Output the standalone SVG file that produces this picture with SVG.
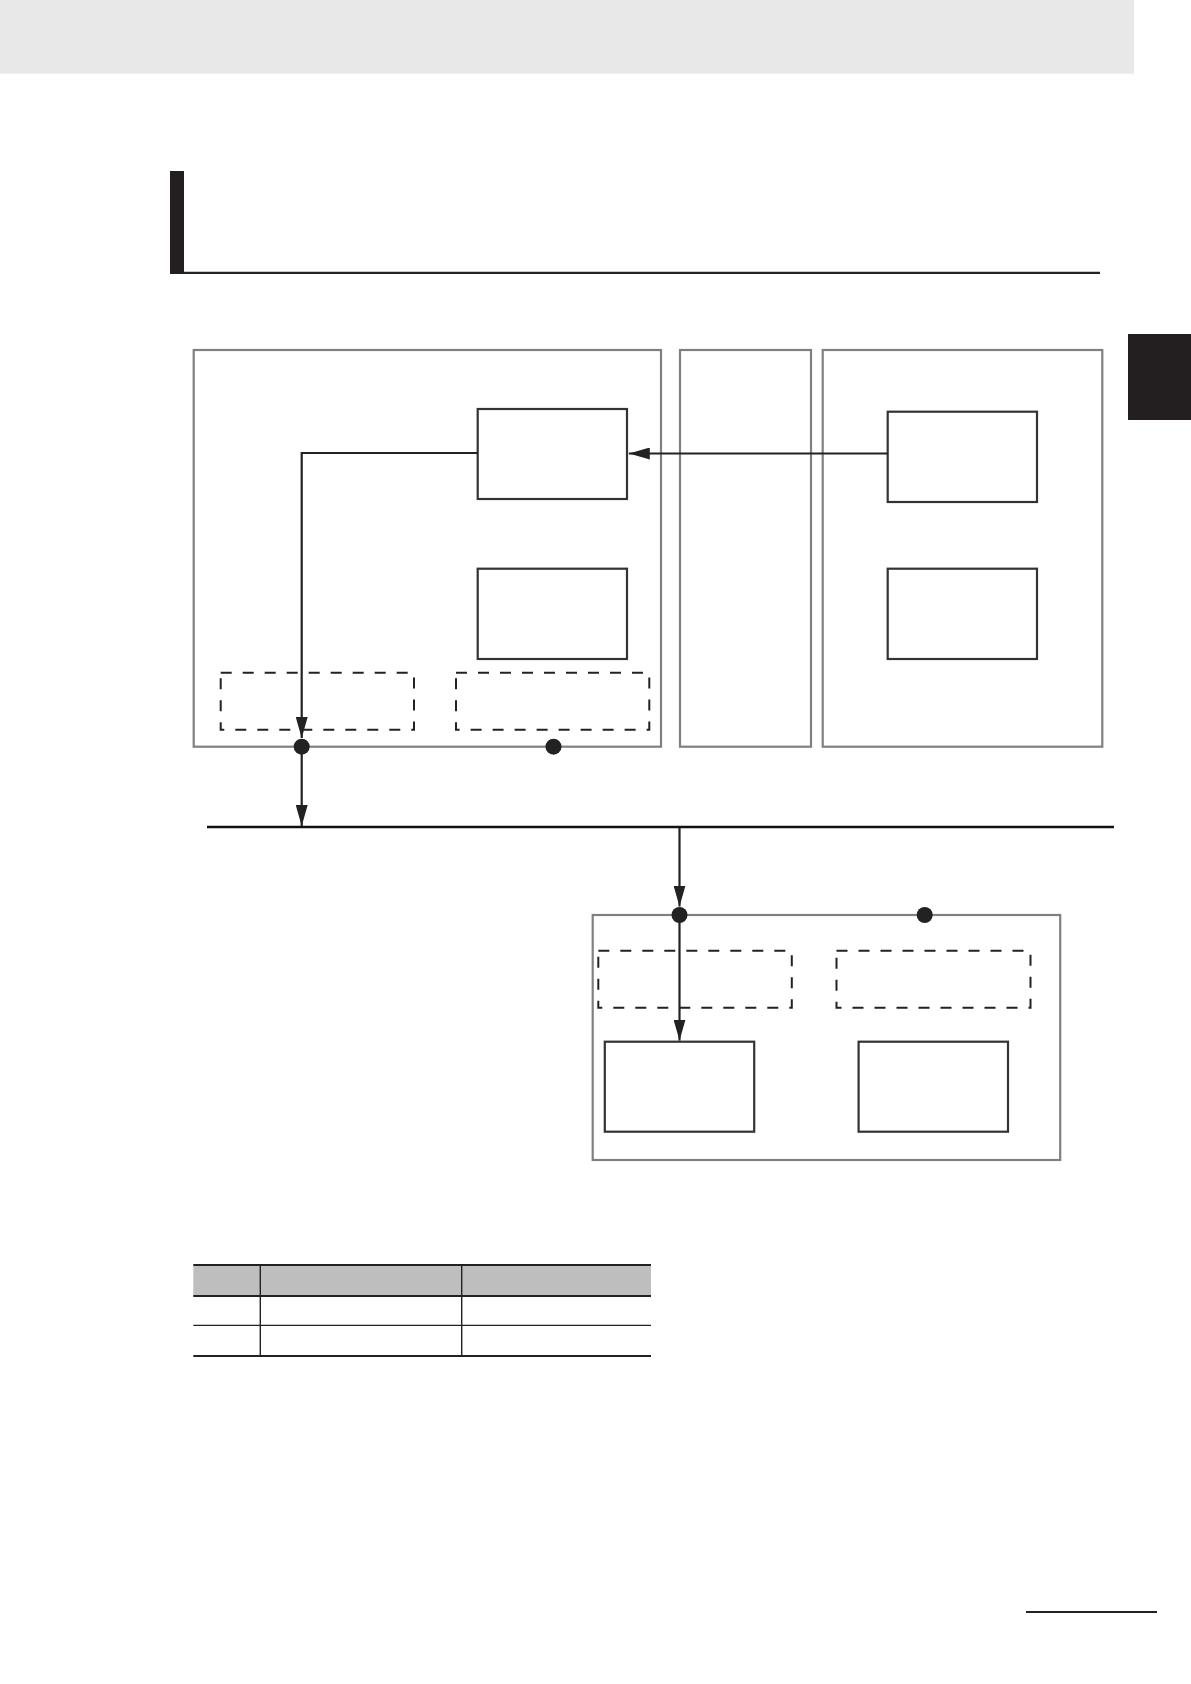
<svg xmlns="http://www.w3.org/2000/svg" width="1191" height="1684" viewBox="0 0 1191 1684">
<style>
.outer{fill:none;stroke:#808080;stroke-width:2.2}
.inner{fill:#fff;stroke:#333;stroke-width:2.2}
.dash{fill:none;stroke:#222;stroke-width:2;stroke-dasharray:11 11}
.conn{fill:none;stroke:#222;stroke-width:2.2}
.dot{fill:#222}
.rule{stroke:#222;fill:none}
</style>
<defs>
<marker id="arr" markerUnits="userSpaceOnUse" markerWidth="21" markerHeight="12" refX="21" refY="6" orient="auto">
<path d="M0,0 L21,6 L0,12 z" fill="#222"/>
</marker>
</defs>
<rect width="1191" height="1684" fill="#fff"/>
<g id="page-header">
<rect x="0" y="0" width="1134" height="73.7" fill="#e8e8e8"/>
<rect x="170" y="171" width="14" height="103" fill="#231f20"/>
<line x1="184" y1="272.8" x2="1100" y2="272.8" class="rule" stroke-width="2.3"/>
<rect x="1128" y="334" width="63" height="86" fill="#231f20"/>
</g>
<g id="box-a">
<rect class="outer" x="193.7" y="350" width="467.3" height="396.7"/>
<rect id="a-rect1" class="inner" x="477.7" y="409" width="149.3" height="90"/>
<rect id="a-rect2" class="inner" x="477.7" y="568.7" width="149.3" height="90.3"/>
<rect id="a-dash1" class="dash" x="220.7" y="672.7" width="193.3" height="57"/>
<rect id="a-dash2" class="dash" x="456" y="672.7" width="193.3" height="57"/>
</g>
<g id="box-b">
<rect class="outer" x="680" y="350" width="131" height="396.7"/>
</g>
<g id="box-c">
<rect class="outer" x="822.7" y="350" width="279.6" height="396.7"/>
<rect id="c-rect1" class="inner" x="887.7" y="411.7" width="149.3" height="90.3"/>
<rect id="c-rect2" class="inner" x="887.7" y="568.7" width="149.3" height="90.3"/>
</g>
<g id="bus">
<line x1="207" y1="827" x2="1114" y2="827" stroke="#111" stroke-width="2.6"/>
</g>
<g id="box-d">
<rect class="outer" x="592.7" y="915" width="467.5" height="245"/>
<rect id="d-dash1" class="dash" x="598.3" y="950.7" width="193.5" height="57"/>
<rect id="d-dash2" class="dash" x="836.5" y="950.7" width="194" height="57"/>
<rect id="d-rect1" class="inner" x="604.8" y="1041.7" width="149.4" height="90"/>
<rect id="d-rect2" class="inner" x="858.6" y="1041.7" width="149.4" height="90"/>
</g>
<g id="connectors">
<line class="conn" x1="887.7" y1="453.5" x2="628.8" y2="453.5" marker-end="url(#arr)"/>
<polyline class="conn" points="477.7,453 301.7,453 301.7,738" marker-end="url(#arr)"/>
<line class="conn" x1="301.7" y1="746.7" x2="301.7" y2="826" marker-end="url(#arr)"/>
<line class="conn" x1="679.5" y1="828" x2="679.5" y2="906.5" marker-end="url(#arr)"/>
<line class="conn" x1="679.5" y1="915" x2="679.5" y2="1040.6" marker-end="url(#arr)"/>
</g>
<g id="ports">
<circle class="dot" cx="301.7" cy="746.7" r="8"/>
<circle class="dot" cx="553.5" cy="746.7" r="8"/>
<circle class="dot" cx="679.5" cy="915" r="8"/>
<circle class="dot" cx="924.7" cy="915" r="8"/>
</g>
<g id="table">
<rect x="193.3" y="1265" width="457.7" height="31" fill="#bebebe"/>
<line class="rule" x1="193.3" y1="1265" x2="651" y2="1265" stroke-width="2.2"/>
<line class="rule" x1="193.3" y1="1296" x2="651" y2="1296" stroke-width="2.2"/>
<line class="rule" x1="193.3" y1="1325.3" x2="651" y2="1325.3" stroke-width="1.2"/>
<line class="rule" x1="193.3" y1="1356" x2="651" y2="1356" stroke-width="2.2"/>
<line class="rule" x1="260.3" y1="1265" x2="260.3" y2="1356" stroke-width="1.4"/>
<line class="rule" x1="461.7" y1="1265" x2="461.7" y2="1356" stroke-width="1.4"/>
</g>
<g id="page-footer">
<line class="rule" x1="1026" y1="1612" x2="1157" y2="1612" stroke-width="2.2"/>
</g>
</svg>
